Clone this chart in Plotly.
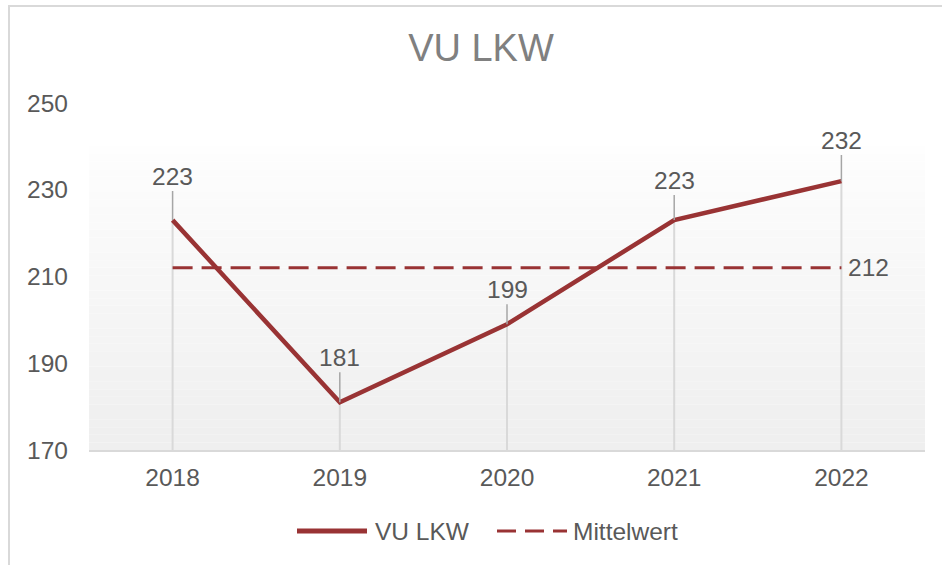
import plotly.graph_objs as go

# Daten
jahre = ["2018", "2019", "2020", "2021", "2022"]
vu_lkw = [223, 181, 199, 223, 232]
mittelwert = [212, 212, 212, 212, 212]
mittel_label = "212"
y_ticks = [170, 190, 210, 230, 250]

# Abstand der Datenbeschriftungen (px über dem Punkt)
label_offset = [-44, -45, -35, -40, -41]

rot = "#993334"
grau_text = "#595959"
schrift = "Liberation Sans, Arial, sans-serif"
fs = 24.5

# plot area in pixels -> paper coords
L, R, T, B = 89, 925, 103, 450
def px_x(p):
    return (p - L) / (R - L)
def px_y(p):
    return (B - p) / (B - T)

fig = go.Figure()

# senkrechte Linien bis zur Achse
fig.add_trace(go.Scatter(
    x=jahre, y=vu_lkw, mode="markers",
    marker=dict(size=1, color="rgba(0,0,0,0)"),
    error_y=dict(type="data", symmetric=False,
                 array=[0] * len(vu_lkw),
                 arrayminus=[v - y_ticks[0] for v in vu_lkw],
                 width=0, thickness=2, color="#d9d9d9"),
    hoverinfo="skip", showlegend=False))

fig.add_trace(go.Scatter(x=jahre, y=mittelwert, mode="lines", name="Mittelwert",
                         line=dict(color=rot, width=3, dash="20px,9px"),
                         showlegend=False))
fig.add_trace(go.Scatter(x=jahre, y=vu_lkw, mode="lines", name="VU LKW",
                         line=dict(color=rot, width=4.5), showlegend=False))

# Verlauf im Hintergrund
shapes = []
n = 40
top_val = 240
for i in range(n):
    y0 = y_ticks[0] + (top_val - y_ticks[0]) * i / n
    y1 = y_ticks[0] + (top_val - y_ticks[0]) * (i + 1) / n
    c = int(239 + (254 - 239) * i / (n - 1))
    shapes.append(dict(type="rect", xref="paper", yref="y", x0=0, x1=1, y0=y0, y1=y1,
                       fillcolor="rgb(%d,%d,%d)" % (c, c, c), line=dict(width=0), layer="below"))

# Rahmen
shapes.append(dict(type="rect", xref="paper", yref="paper",
                   x0=px_x(9), x1=1.3, y0=-1, y1=px_y(6),
                   line=dict(color="#d9d9d9", width=2), fillcolor="rgba(0,0,0,0)", layer="below"))

# Legende (handgemacht)
ly = px_y(531)
shapes.append(dict(type="line", xref="paper", yref="paper", x0=px_x(297), x1=px_x(367), y0=ly, y1=ly,
                   line=dict(color=rot, width=5)))
shapes.append(dict(type="line", xref="paper", yref="paper", x0=px_x(497), x1=px_x(567), y0=ly, y1=ly,
                   line=dict(color=rot, width=3, dash="19px,9px")))

annots = []
for i, (v, off) in enumerate(zip(vu_lkw, label_offset)):
    annots.append(dict(x=i, y=v, text=str(v), showarrow=True, arrowhead=0, arrowwidth=1.5,
                       arrowcolor="#a6a6a6", ax=0, ay=off,
                       font=dict(size=fs, color=grau_text)))
annots.append(dict(x=len(jahre) - 1, y=mittelwert[-1], text=mittel_label, showarrow=False,
                   xanchor="left", yanchor="middle", xshift=5, font=dict(size=fs, color=grau_text)))
annots.append(dict(xref="paper", yref="paper", x=px_x(373), y=ly, text="VU LKW", showarrow=False,
                   xanchor="left", yanchor="middle", font=dict(size=fs, color=grau_text)))
annots.append(dict(xref="paper", yref="paper", x=px_x(571), y=ly, text="Mittelwert", showarrow=False,
                   xanchor="left", yanchor="middle", font=dict(size=fs, color=grau_text)))

fig.update_layout(
    width=942, height=565,
    margin=dict(l=L, r=942 - R, t=T, b=565 - B),
    paper_bgcolor="white", plot_bgcolor="white",
    font=dict(family=schrift, color=grau_text, size=fs),
    title=dict(text="VU LKW", x=481 / 942, xref="container", xanchor="center",
               y=1 - 48 / 565, yref="container", yanchor="middle",
               font=dict(size=38, color="#808080")),
    showlegend=False,
    shapes=shapes,
    annotations=annots,
)
fig.update_xaxes(type="category", range=[-0.5, len(jahre) - 0.5], showgrid=False,
                 showline=True, linecolor="#d9d9d9", linewidth=2, ticks="",
                 ticklabelstandoff=5, zeroline=False)
fig.update_yaxes(range=[y_ticks[0], y_ticks[-1]], tickvals=y_ticks, showgrid=False,
                 showline=False, zeroline=False, ticks="", ticklabelstandoff=20)

fig.write_html("out.html", config={"displayModeBar": False},
               post_script="document.body.style.margin='0';document.body.style.overflow='hidden';")
